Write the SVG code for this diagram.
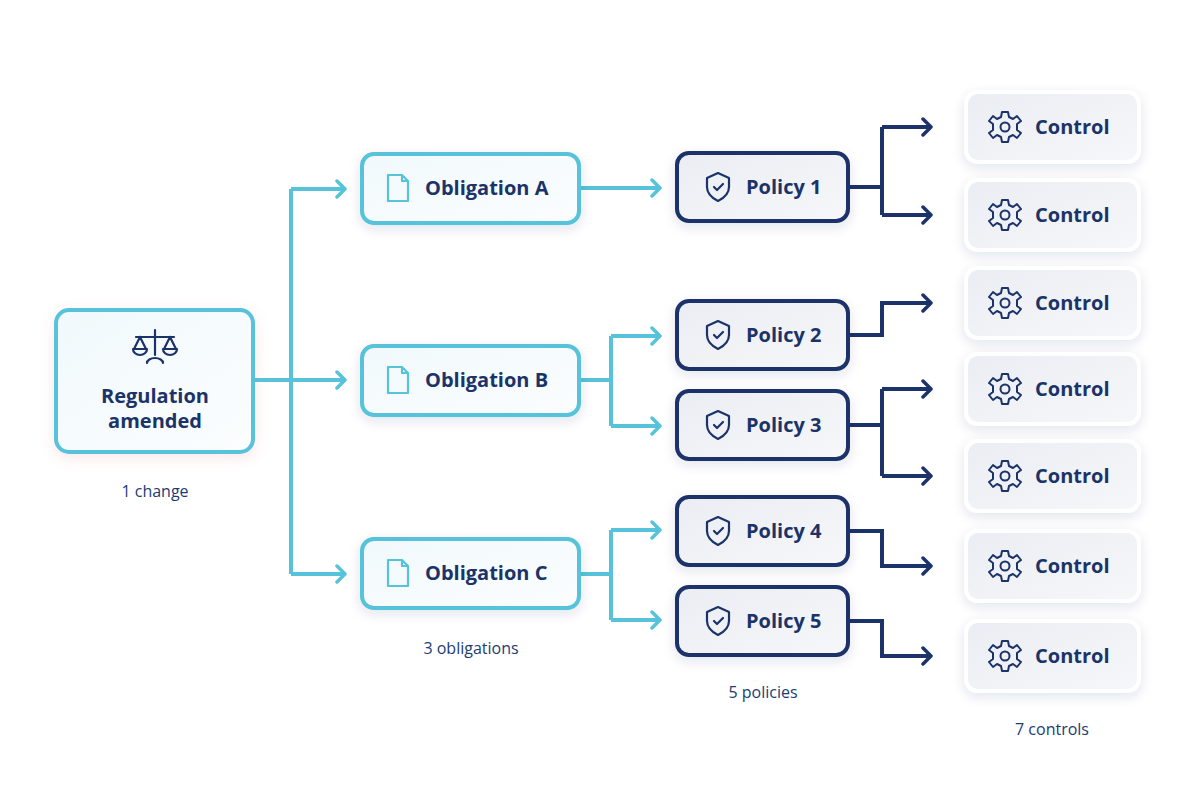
<svg xmlns="http://www.w3.org/2000/svg" width="1200" height="800" viewBox="0 0 1200 800">
<defs>
<filter id="sh" x="-20%" y="-30%" width="140%" height="160%"><feDropShadow dx="0" dy="4" stdDeviation="6" flood-color="#1b3368" flood-opacity="0.12"/></filter>
<filter id="shr" x="-20%" y="-20%" width="140%" height="140%"><feDropShadow dx="0" dy="4" stdDeviation="7" flood-color="#e05a6a" flood-opacity="0.15"/></filter>
<linearGradient id="lg" x1="0" y1="0" x2="1" y2="1"><stop offset="0" stop-color="#f1f9fc"/><stop offset="1" stop-color="#fbfdfe"/></linearGradient>
<linearGradient id="cg" x1="0" y1="0" x2="1" y2="1"><stop offset="0" stop-color="#eaedf3"/><stop offset="1" stop-color="#f6f7f9"/></linearGradient>
<marker id="ac" viewBox="0 0 12 20" refX="10" refY="10" markerWidth="12" markerHeight="20" markerUnits="userSpaceOnUse" orient="auto"><path d="M2 2 L10 10 L2 18" fill="none" stroke="#56c3da" stroke-width="3.5" stroke-linecap="round" stroke-linejoin="round"/></marker>
<marker id="ad" viewBox="0 0 12 20" refX="10" refY="10" markerWidth="12" markerHeight="20" markerUnits="userSpaceOnUse" orient="auto"><path d="M2 2 L10 10 L2 18" fill="none" stroke="#1b3368" stroke-width="3.5" stroke-linecap="round" stroke-linejoin="round"/></marker>
<g id="doc"><path d="M-10 -13 H4 L10 -7 V13 H-10 Z M4 -13 V-7 H10" fill="none" stroke="#56c3da" stroke-width="2.2" stroke-linejoin="round"/></g>
<g id="shield"><path d="M0 -14 L11 -9 V0 C11 7 6 11 0 14 C-6 11 -11 7 -11 0 V-9 Z" fill="none" stroke="#1b3368" stroke-width="2.2" stroke-linejoin="round"/><path d="M-4 0 L-1 3 L5 -3" fill="none" stroke="#1b3368" stroke-width="2.2" stroke-linecap="round" stroke-linejoin="round"/></g>
<g id="gear"><path d="M-3 -15 H3 L4 -10 L8 -8 L12 -11 L16 -6 L12 -3 L12 3 L16 6 L12 11 L8 8 L4 10 L3 15 H-3 L-4 10 L-8 8 L-12 11 L-16 6 L-12 3 L-12 -3 L-16 -6 L-12 -11 L-8 -8 L-4 -10 Z" fill="none" stroke="#1b3368" stroke-width="2" stroke-linejoin="round"/><circle r="4.5" fill="none" stroke="#1b3368" stroke-width="2"/></g>
</defs>
<style>
.t{font-family:"Open Sans","Noto Sans",sans-serif;font-weight:700;font-size:20px;fill:#1b3368}
.s{font-family:"Open Sans","Noto Sans",sans-serif;font-size:16px;fill:#1b3c73;text-anchor:middle}
.lc{fill:none;stroke:#56c3da;stroke-width:4}
.ld{fill:none;stroke:#1b3368;stroke-width:4}
.ob{fill:url(#lg);stroke:#56c3da;stroke-width:4}
.po{fill:url(#cg);stroke:#1b3368;stroke-width:4}
.co{fill:url(#cg);stroke:#ffffff;stroke-width:4}
</style>
<rect width="1200" height="800" fill="#ffffff"/>
<g id="connectors">
<path class="lc" d="M254 380 H291"/>
<path class="lc" d="M291 189 V574"/>
<path class="lc" d="M291 189 H345" marker-end="url(#ac)"/>
<path class="lc" d="M291 380 H345" marker-end="url(#ac)"/>
<path class="lc" d="M291 574 H345" marker-end="url(#ac)"/>
<path class="lc" d="M579 188 H660" marker-end="url(#ac)"/>
<path class="lc" d="M579 380 H611 M611 336 V426"/>
<path class="lc" d="M611 336 H660" marker-end="url(#ac)"/>
<path class="lc" d="M611 426 H660" marker-end="url(#ac)"/>
<path class="lc" d="M579 574 H611 M611 530 V620"/>
<path class="lc" d="M611 530 H660" marker-end="url(#ac)"/>
<path class="lc" d="M611 620 H660" marker-end="url(#ac)"/>
<path class="ld" d="M848 187 H882 M882 127 V215"/>
<path class="ld" d="M882 127 H931" marker-end="url(#ad)"/>
<path class="ld" d="M882 215 H931" marker-end="url(#ad)"/>
<path class="ld" d="M848 335 H882 V303 H931" marker-end="url(#ad)"/>
<path class="ld" d="M848 425 H882 M882 389 V476"/>
<path class="ld" d="M882 389 H931" marker-end="url(#ad)"/>
<path class="ld" d="M882 476 H931" marker-end="url(#ad)"/>
<path class="ld" d="M848 531 H882 V566 H931" marker-end="url(#ad)"/>
<path class="ld" d="M848 621 H882 V656 H931" marker-end="url(#ad)"/>
</g>
<g id="regulation">
<rect x="56" y="310" width="197" height="142" rx="13" class="ob" filter="url(#shr)"/>
<g fill="none" stroke="#1b3368" stroke-width="2.2" stroke-linecap="round" stroke-linejoin="round">
<path d="M155 330 V355 M136 337 H174 M140 337 L134 349 M140 337 L146 349 M170 337 L164 349 M170 337 L176 349 M133 349 H147 A7 6 0 0 1 133 349 M163 349 H177 A7 6 0 0 1 163 349 M147 363 A8 5 0 0 1 163 363"/>
</g>
<text class="t" x="155" y="403" text-anchor="middle">Regulation</text>
<text class="t" x="155" y="428" text-anchor="middle">amended</text>
</g>
<text class="s" x="155" y="497">1 change</text>
<g id="obA"><rect x="362" y="154" width="217" height="69" rx="12" class="ob" filter="url(#sh)"/><use href="#doc" x="398" y="188"/><text class="t" x="425" y="195">Obligation A</text></g>
<g id="obB"><rect x="362" y="346" width="217" height="69" rx="12" class="ob" filter="url(#sh)"/><use href="#doc" x="398" y="380"/><text class="t" x="425" y="387">Obligation B</text></g>
<g id="obC"><rect x="362" y="539" width="217" height="69" rx="12" class="ob" filter="url(#sh)"/><use href="#doc" x="398" y="573"/><text class="t" x="425" y="580">Obligation C</text></g>
<text class="s" x="471" y="654">3 obligations</text>
<g id="p1"><rect x="677" y="153" width="171" height="68" rx="12" class="po" filter="url(#sh)"/><use href="#shield" x="718" y="187"/><text class="t" x="746" y="194">Policy 1</text></g>
<g id="p2"><rect x="677" y="301" width="171" height="68" rx="12" class="po" filter="url(#sh)"/><use href="#shield" x="718" y="335"/><text class="t" x="746" y="342">Policy 2</text></g>
<g id="p3"><rect x="677" y="391" width="171" height="68" rx="12" class="po" filter="url(#sh)"/><use href="#shield" x="718" y="425"/><text class="t" x="746" y="432">Policy 3</text></g>
<g id="p4"><rect x="677" y="497" width="171" height="68" rx="12" class="po" filter="url(#sh)"/><use href="#shield" x="718" y="531"/><text class="t" x="746" y="538">Policy 4</text></g>
<g id="p5"><rect x="677" y="587" width="171" height="68" rx="12" class="po" filter="url(#sh)"/><use href="#shield" x="718" y="621"/><text class="t" x="746" y="628">Policy 5</text></g>
<text class="s" x="763" y="698">5 policies</text>
<g id="c1"><rect x="966" y="92" width="173" height="70" rx="12" class="co" filter="url(#sh)"/><use href="#gear" x="1005" y="127"/><text class="t" x="1035" y="134">Control</text></g>
<g id="c2"><rect x="966" y="180" width="173" height="70" rx="12" class="co" filter="url(#sh)"/><use href="#gear" x="1005" y="215"/><text class="t" x="1035" y="222">Control</text></g>
<g id="c3"><rect x="966" y="268" width="173" height="70" rx="12" class="co" filter="url(#sh)"/><use href="#gear" x="1005" y="303"/><text class="t" x="1035" y="310">Control</text></g>
<g id="c4"><rect x="966" y="354" width="173" height="70" rx="12" class="co" filter="url(#sh)"/><use href="#gear" x="1005" y="389"/><text class="t" x="1035" y="396">Control</text></g>
<g id="c5"><rect x="966" y="441" width="173" height="70" rx="12" class="co" filter="url(#sh)"/><use href="#gear" x="1005" y="476"/><text class="t" x="1035" y="483">Control</text></g>
<g id="c6"><rect x="966" y="531" width="173" height="70" rx="12" class="co" filter="url(#sh)"/><use href="#gear" x="1005" y="566"/><text class="t" x="1035" y="573">Control</text></g>
<g id="c7"><rect x="966" y="621" width="173" height="70" rx="12" class="co" filter="url(#sh)"/><use href="#gear" x="1005" y="656"/><text class="t" x="1035" y="663">Control</text></g>
<text class="s" x="1052" y="735">7 controls</text>
</svg>
